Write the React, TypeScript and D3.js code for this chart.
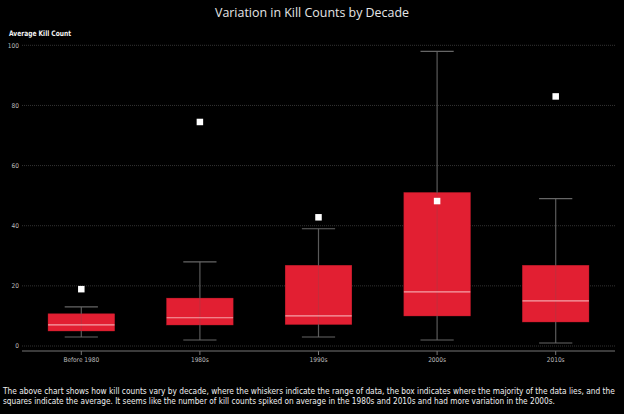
import React, { useLayoutEffect, useRef, useState } from "react";
import * as d3 from "d3";

const decades = ["Before 1980", "1980s", "1990s", "2000s", "2010s"];
const mins = [3, 2, 3, 2, 1];
const q1s = [5, 7, 7.2, 10, 8];
const medians = [7, 9.4, 10, 18, 15];
const q3s = [10.7, 15.9, 26.8, 51, 26.8];
const maxs = [13, 28, 39, 98, 49];
const means = [18.9, 74.5, 42.8, 48.2, 83];
const yTicks = [0, 20, 40, 60, 80, 100];

const W = 624;
const H = 414;
const left = 22;
const right = 615;
const top = 45.3;
const bottom = 346;

const captionLines = [
  "The above chart shows how kill counts vary by decade, where the whiskers indicate the range of data, the box indicates where the majority of the data lies, and the",
  "squares indicate the average. It seems like the number of kill counts spiked on average in the 1980s and 2010s and had more variation in the 2000s.",
];
const captionWidths = [611, 551];

const FONT = "'Liberation Sans Narrow', 'DejaVu Sans Condensed', 'Roboto', sans-serif";

export default function App() {
  const x = d3.scaleBand<string>().domain(decades).range([left, right]);
  const y = d3.scaleLinear().domain([0, 100]).range([bottom, top]);
  const boxW = x.bandwidth() * 0.56;
  const capW = boxW / 2;
  const sq = 6.5;

  // Horizontal squeeze for the caption lines, measured after layout.
  const capRefs = useRef<(SVGTextElement | null)[]>([]);
  const [capScale, setCapScale] = useState<number[]>([0.8, 0.8]);
  useLayoutEffect(() => {
    const s = capRefs.current.map((el, i) => {
      if (!el) return 0.8;
      const w = el.getComputedTextLength();
      return w > 0 ? captionWidths[i] / w : 0.8;
    });
    setCapScale(s);
  }, []);

  return (
    <svg
      width={W}
      height={H}
      style={{ position: "absolute", left: 0, top: 0, background: "#000", display: "block" }}
    >
      <rect x={0} y={0} width={W} height={H} fill="#000" />
      <text
        x={312}
        y={17}
        textAnchor="middle"
        fill="#e6e6e6"
        fontFamily="'Open Sans', 'Noto Sans', sans-serif"
        fontSize={13.5}
        textLength={194}
        lengthAdjust="spacingAndGlyphs"
      >
        Variation in Kill Counts by Decade
      </text>
      <text
        x={9}
        y={36}
        fill="#f2f2f2"
        fontFamily={FONT}
        fontWeight="bold"
        fontSize={7.5}
        textLength={62}
        lengthAdjust="spacingAndGlyphs"
      >
        Average Kill Count
      </text>

      {yTicks.map((t) => (
        <g key={t}>
          <line
            x1={left}
            x2={right}
            y1={y(t)}
            y2={y(t)}
            stroke="#333"
            strokeWidth={1}
            strokeDasharray="1,1"
          />
          <text
            x={19}
            y={y(t) + 2.3}
            textAnchor="end"
            fill="#bdbdbd"
            fontFamily={FONT}
            fontSize={6.5}
          >
            {t}
          </text>
        </g>
      ))}

      <line x1={left} x2={right} y1={351} y2={351} stroke="#777" strokeWidth={1} />

      {decades.map((d, i) => {
        const cx = (x(d) as number) + x.bandwidth() / 2;
        return (
          <g key={d}>
            <line x1={cx} x2={cx} y1={351} y2={355} stroke="#777" strokeWidth={1} />
            <text
              x={cx}
              y={362}
              textAnchor="middle"
              fill="#bdbdbd"
              fontFamily={FONT}
              fontSize={6.5}
            >
              {d}
            </text>
            <rect
              x={cx - boxW / 2}
              y={y(q3s[i])}
              width={boxW}
              height={y(q1s[i]) - y(q3s[i])}
              fill="#e21f32"
              stroke="#8a1520"
              strokeWidth={0.6}
            />
            <line
              x1={cx}
              x2={cx}
              y1={y(maxs[i])}
              y2={y(mins[i])}
              stroke="#5a5a5a"
              strokeWidth={1.2}
            />
            <rect
              x={cx - boxW / 2}
              y={y(q3s[i])}
              width={boxW}
              height={y(q1s[i]) - y(q3s[i])}
              fill="#e21f32"
              fillOpacity={0.8}
            />
            <line
              x1={cx - boxW / 2}
              x2={cx + boxW / 2}
              y1={y(medians[i])}
              y2={y(medians[i])}
              stroke="#f5a3a9"
              strokeWidth={1.2}
            />
            <line
              x1={cx - capW / 2}
              x2={cx + capW / 2}
              y1={y(maxs[i])}
              y2={y(maxs[i])}
              stroke="#666"
              strokeWidth={1.2}
            />
            <line
              x1={cx - capW / 2}
              x2={cx + capW / 2}
              y1={y(mins[i])}
              y2={y(mins[i])}
              stroke="#666"
              strokeWidth={1.2}
            />
            <rect
              x={cx - sq / 2}
              y={y(means[i]) - sq / 2}
              width={sq}
              height={sq}
              fill="#fff"
            />
          </g>
        );
      })}

      {captionLines.map((line, i) => (
        <g key={i} transform={`translate(3, ${394 + i * 10}) scale(${capScale[i]}, 1)`}>
          <text
            ref={(el) => {
              capRefs.current[i] = el;
            }}
            x={0}
            y={0}
            fill="#f0f0f0"
            fontFamily={FONT}
            fontSize={9}
          >
            {line}
          </text>
        </g>
      ))}
    </svg>
  );
}
